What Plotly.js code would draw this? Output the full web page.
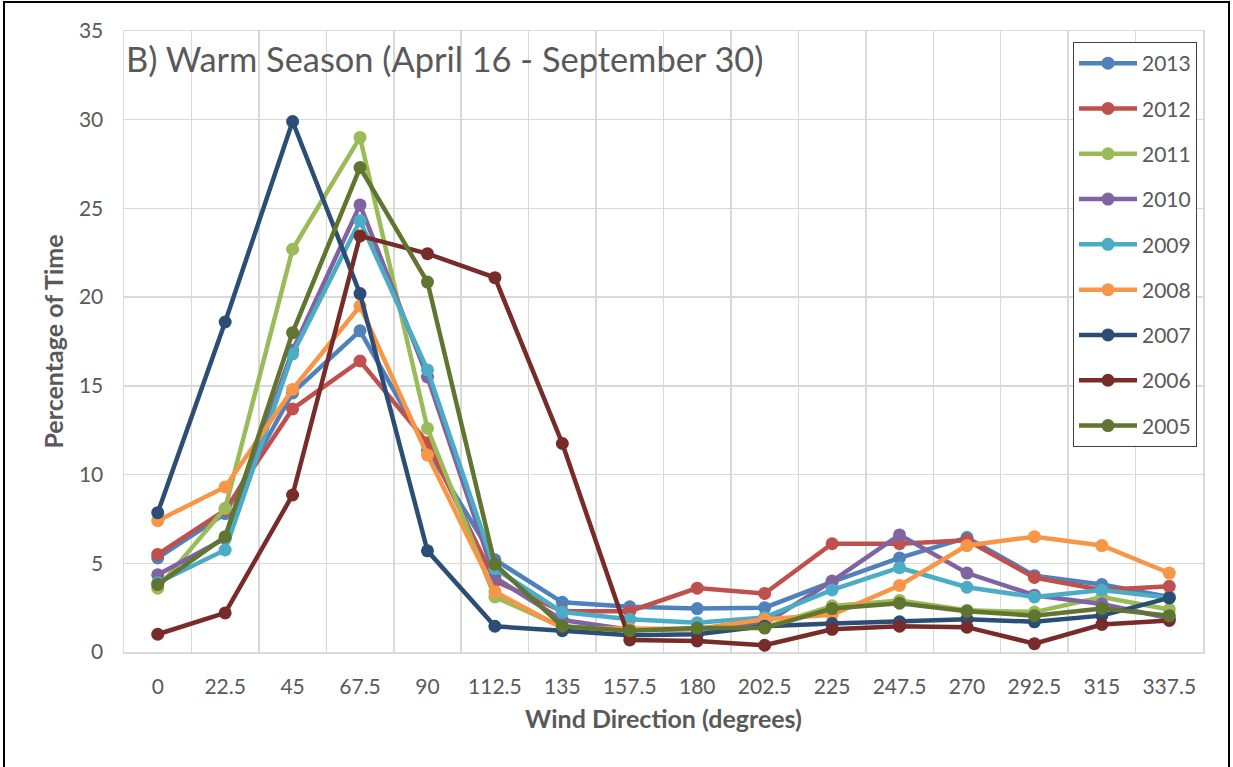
<!DOCTYPE html>
<html>
<head>
<meta charset="utf-8">
<script src="https://cdn.plot.ly/plotly-3.0.1.min.js"></script>
<style>
  html, body { margin: 0; padding: 0; background: #fff; }
  #wrap { position: relative; width: 1233px; height: 767px; overflow: hidden; }
  #chart { width: 1233px; height: 767px; }
  #frame { position: absolute; left: 3px; top: 1px; width: 1227px; height: 800px;
           border: 2px solid #000; pointer-events: none; box-sizing: border-box; }
</style>
</head>
<body>
<div id="wrap"><div id="chart"></div><div id="frame"></div></div>
<script>
const directions = ["0","22.5","45","67.5","90","112.5","135","157.5","180","202.5","225","247.5","270","292.5","315","337.5"];
const years = ["2013","2012","2011","2010","2009","2008","2007","2006","2005"];

const y2013 = [5.3, 7.8, 14.6, 18.1, 11.4, 5.2, 2.8, 2.55, 2.45, 2.5, 3.95, 5.3, 6.45, 4.3, 3.8, 3.1];
const y2012 = [5.5, 8.0, 13.7, 16.4, 11.8, 4.0, 2.3, 2.3, 3.6, 3.3, 6.1, 6.1, 6.3, 4.2, 3.5, 3.7];
const y2011 = [3.6, 8.1, 22.7, 29.0, 12.6, 3.1, 1.4, 1.25, 1.3, 1.4, 2.6, 2.9, 2.35, 2.25, 3.1, 2.4];
const y2010 = [4.35, 6.4, 17.0, 25.2, 15.5, 4.2, 1.8, 1.25, 1.3, 1.6, 4.0, 6.6, 4.45, 3.2, 2.7, 1.9];
const y2009 = [3.9, 5.75, 16.8, 24.3, 15.9, 4.7, 2.25, 1.85, 1.65, 1.95, 3.5, 4.75, 3.65, 3.1, 3.5, 3.05];
const y2008 = [7.4, 9.3, 14.8, 19.5, 11.1, 3.4, 1.35, 1.3, 1.3, 1.85, 2.1, 3.75, 6.0, 6.5, 6.0, 4.45];
const y2007 = [7.85, 18.6, 29.9, 20.2, 5.7, 1.45, 1.2, 0.95, 1.0, 1.45, 1.6, 1.7, 1.85, 1.7, 2.05, 3.05];
const y2006 = [1.0, 2.2, 8.85, 23.45, 22.45, 21.1, 11.75, 0.68, 0.62, 0.38, 1.28, 1.45, 1.4, 0.47, 1.55, 1.78];
const y2005 = [3.8, 6.5, 18.0, 27.3, 20.85, 4.95, 1.45, 1.2, 1.35, 1.35, 2.45, 2.75, 2.3, 2.05, 2.45, 2.05];

const seriesValues = [y2013, y2012, y2011, y2010, y2009, y2008, y2007, y2006, y2005];
const colors = ["#4F81BD","#C0504D","#9BBB59","#8064A2","#4BACC6","#F79646","#2C4D75","#772C2A","#5F7530"];

const FONT = "Lato, 'Open Sans', sans-serif";
const GRAY = "#595959";
const GRID = "#d9d9d9";

const traces = years.map((yr, i) => ({
  type: "scatter",
  mode: "lines+markers",
  name: yr,
  legendgroup: yr,
  x: directions,
  y: seriesValues[i],
  line: { color: colors[i], width: 4.5 },
  marker: { color: colors[i], size: 13 }
}));

const layout = {
  width: 1233, height: 767,
  margin: { l: 124, r: 30, t: 31, b: 115 },
  paper_bgcolor: "#fff", plot_bgcolor: "#fff",
  font: { family: FONT, color: GRAY, size: 21 },
  title: {
    text: "B) Warm Season (April 16 - September 30)",
    font: { family: FONT, size: 34.4, color: GRAY },
    x: 126 / 1233, xanchor: "left", xref: "container",
    y: 1 - 60 / 767, yanchor: "middle", yref: "container"
  },
  xaxis: {
    type: "category",
    range: [-0.5, 15.5],
    tickson: "boundaries",
    showgrid: true, gridcolor: GRID, gridwidth: 1.5,
    showline: true, mirror: true, linecolor: GRID, linewidth: 1.5,
    ticks: "", ticklabelstandoff: 15,
    tickfont: { family: FONT, size: 21, color: GRAY },
    zeroline: false,
    title: { text: "<b>Wind Direction (degrees)</b>", font: { family: FONT, size: 25, color: GRAY }, standoff: 14 }
  },
  yaxis: {
    range: [0, 35], dtick: 5,
    showgrid: true, gridcolor: GRID, gridwidth: 1.5,
    showline: true, mirror: true, linecolor: GRID, linewidth: 1.5,
    ticks: "outside", ticklen: 15, tickcolor: "rgba(0,0,0,0)",
    tickfont: { family: FONT, size: 21, color: GRAY },
    zeroline: false,
    title: { text: "<b>Percentage of Time</b>", font: { family: FONT, size: 25, color: GRAY }, standoff: 8 }
  },
  legend: {
    x: (1073 - 124) / 1079, xanchor: "left",
    y: (652 - 42) / 621, yanchor: "top",
    bgcolor: "#fff", bordercolor: "#404040", borderwidth: 1,
    font: { family: FONT, size: 21, color: GRAY },
    itemwidth: 58,
    tracegroupgap: 15
  },
  showlegend: true
};

Plotly.newPlot("chart", traces, layout, { displayModeBar: false, staticPlot: true });
</script>
</body>
</html>
